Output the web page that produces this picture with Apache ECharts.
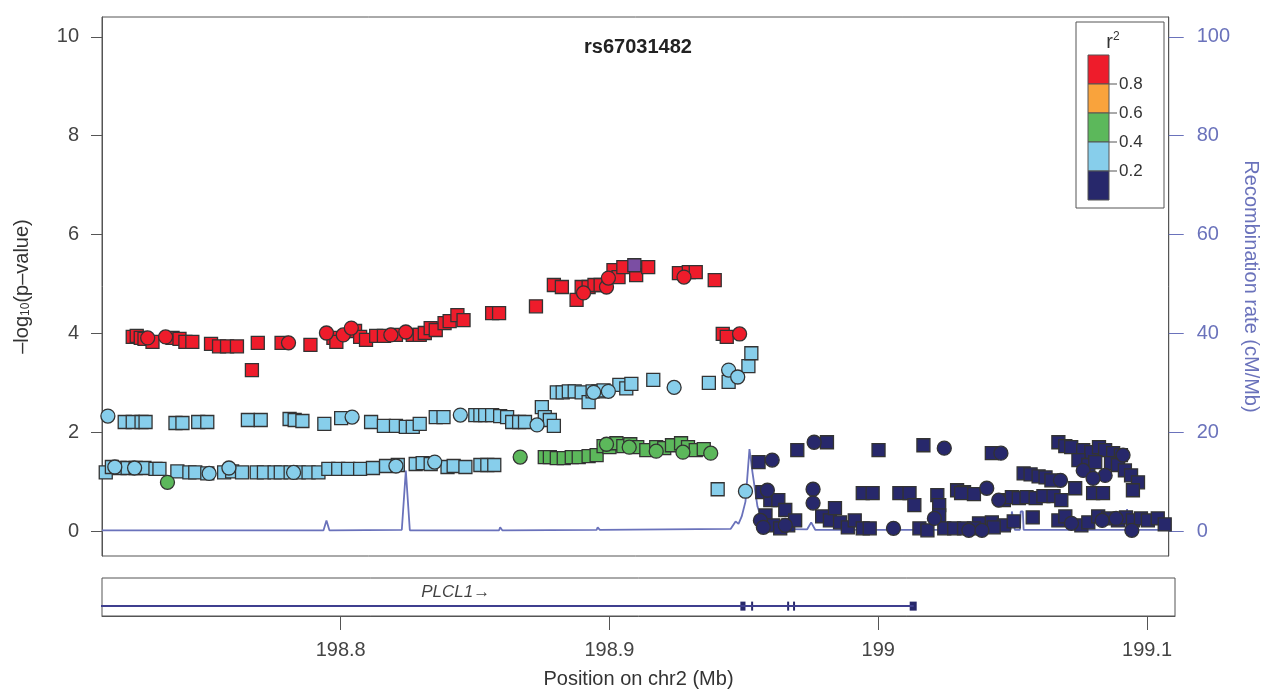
<!DOCTYPE html>
<html>
<head>
<meta charset="utf-8">
<script src="https://cdn.jsdelivr.net/npm/echarts@6/dist/echarts.min.js"></script>
<style>
  html, body { margin: 0; padding: 0; background: #fff; }
  #chart { width: 1269px; height: 691px; }
</style>
</head>
<body>
<div id="chart"></div>
<script>
// window on chr2 (Mb)
const xMin = 198.7112;
const xMax = 199.1104;
const xTicks = [198.8, 198.9, 199, 199.1];
const pTicks = [0, 2, 4, 6, 8, 10];
const rateTicks = [0, 20, 40, 60, 80, 100];

const leadSnp = "rs67031482";
const leadPoint = [[198.9104, 5.38]];

// [position Mb, -log10 p]
const redSquares = [
  [198.7227, 3.93], [198.7242, 3.95], [198.7257, 3.91], [198.7271, 3.89], [198.7301, 3.83],
  [198.7376, 3.91], [198.7402, 3.89], [198.7424, 3.83], [198.745, 3.83], [198.752, 3.79],
  [198.755, 3.74], [198.758, 3.74], [198.7617, 3.74], [198.7673, 3.26], [198.7695, 3.81],
  [198.7784, 3.81], [198.7892, 3.77], [198.7978, 3.91], [198.7989, 3.83], [198.8059, 4.05],
  [198.8078, 3.93], [198.81, 3.87], [198.8138, 3.95], [198.8167, 3.95], [198.8212, 3.97],
  [198.8275, 3.97], [198.8301, 3.97], [198.832, 4.01], [198.8342, 4.11], [198.8361, 4.07],
  [198.8394, 4.21], [198.8413, 4.25], [198.8442, 4.37], [198.8465, 4.27], [198.8572, 4.41],
  [198.8598, 4.41], [198.8736, 4.55], [198.8803, 4.98], [198.8833, 4.94], [198.8888, 4.68],
  [198.8907, 4.94], [198.8933, 4.94], [198.8955, 4.98], [198.8978, 4.98], [198.9026, 5.28],
  [198.9045, 5.14], [198.9063, 5.34], [198.9111, 5.18], [198.9156, 5.34], [198.9271, 5.22],
  [198.9308, 5.24], [198.9334, 5.24], [198.9405, 5.08], [198.9435, 3.99], [198.945, 3.93]
];
const redCircles = [
  [198.7283, 3.91], [198.735, 3.93], [198.781, 3.81], [198.7952, 4.01], [198.8015, 3.97],
  [198.8045, 4.11], [198.8193, 3.97], [198.8249, 4.03], [198.8914, 4.82], [198.9, 4.94],
  [198.9007, 5.12], [198.929, 5.14], [198.9498, 3.99]
];

const greenSquares = [
  [198.8769, 1.5], [198.8788, 1.5], [198.8814, 1.48], [198.884, 1.48], [198.887, 1.5],
  [198.8896, 1.5], [198.8933, 1.52], [198.8963, 1.54], [198.8989, 1.72], [198.9011, 1.7],
  [198.9037, 1.78], [198.9063, 1.72], [198.9089, 1.76], [198.9115, 1.7], [198.9149, 1.64],
  [198.9186, 1.7], [198.9216, 1.68], [198.9245, 1.74], [198.9279, 1.78], [198.9305, 1.7],
  [198.9334, 1.64], [198.9364, 1.66]
];
const greenCircles = [
  [198.7357, 0.99], [198.8677, 1.5], [198.9, 1.76], [198.9085, 1.7], [198.9186, 1.62],
  [198.9286, 1.6], [198.939, 1.58]
];

const blueSquares = [
  [198.7197, 2.21], [198.7227, 2.21], [198.726, 2.21], [198.7275, 2.21], [198.7387, 2.19],
  [198.7413, 2.19], [198.7472, 2.21], [198.7506, 2.21], [198.7658, 2.25], [198.7706, 2.25],
  [198.7814, 2.27], [198.7833, 2.25], [198.7862, 2.23], [198.7944, 2.17], [198.8007, 2.29],
  [198.8119, 2.21], [198.8167, 2.13], [198.8212, 2.13], [198.8249, 2.11], [198.8275, 2.11],
  [198.8301, 2.17], [198.8361, 2.31], [198.839, 2.31], [198.8509, 2.35], [198.8528, 2.35],
  [198.8546, 2.35], [198.8572, 2.35], [198.8602, 2.33], [198.8628, 2.31], [198.8647, 2.21],
  [198.8673, 2.21], [198.8695, 2.21], [198.8758, 2.51], [198.8769, 2.31], [198.8788, 2.25],
  [198.8803, 2.13], [198.8814, 2.81], [198.8836, 2.81], [198.8859, 2.83], [198.8881, 2.83],
  [198.8907, 2.81], [198.8933, 2.61], [198.8948, 2.83], [198.897, 2.83], [198.8989, 2.85],
  [198.9048, 2.96], [198.9074, 2.89], [198.9093, 2.98], [198.9175, 3.06], [198.9383, 3.0],
  [198.9457, 3.02], [198.9531, 3.34], [198.9542, 3.6],
  [198.7126, 1.19], [198.7149, 1.3], [198.7178, 1.28], [198.7208, 1.28], [198.7238, 1.28],
  [198.7271, 1.28], [198.7312, 1.26], [198.7327, 1.26], [198.7394, 1.21], [198.7439, 1.19],
  [198.7461, 1.19], [198.7506, 1.17], [198.7569, 1.19], [198.7599, 1.21], [198.7636, 1.19],
  [198.7691, 1.19], [198.7718, 1.19], [198.7758, 1.19], [198.7781, 1.19], [198.7818, 1.19],
  [198.7848, 1.19], [198.7885, 1.19], [198.7922, 1.19], [198.7959, 1.26], [198.7996, 1.26],
  [198.8033, 1.26], [198.8078, 1.26], [198.8126, 1.28], [198.8175, 1.32], [198.8219, 1.34],
  [198.8286, 1.36], [198.8312, 1.38], [198.8342, 1.36], [198.8405, 1.3], [198.8428, 1.32],
  [198.8472, 1.3], [198.8528, 1.34], [198.8554, 1.34], [198.858, 1.34], [198.9416, 0.85]
];
const blueCircles = [
  [198.7134, 2.33], [198.8048, 2.31], [198.8453, 2.35], [198.874, 2.15], [198.8952, 2.81],
  [198.9007, 2.83], [198.9253, 2.91], [198.9457, 3.26], [198.9491, 3.12],
  [198.716, 1.3], [198.7234, 1.28], [198.7513, 1.17], [198.7587, 1.28], [198.7829, 1.19],
  [198.8212, 1.32], [198.8357, 1.4], [198.952, 0.81]
];

const navySquares = [
  [198.9569, 1.4], [198.9714, 1.64], [198.9825, 1.8], [199.0018, 1.64], [199.0186, 1.74],
  [199.0442, 1.58], [199.0691, 1.8], [199.0717, 1.72], [199.0739, 1.7], [199.0784, 1.64],
  [199.0814, 1.6], [199.0843, 1.7], [199.0866, 1.64], [199.0896, 1.58], [199.0925, 1.54],
  [199.0766, 1.44], [199.0803, 1.34], [199.0829, 1.4], [199.0888, 1.38], [199.0914, 1.34],
  [199.094, 1.23], [199.0963, 1.13], [199.0989, 0.99], [199.097, 0.83], [199.0561, 1.17],
  [199.0587, 1.15], [199.0617, 1.11], [199.0643, 1.09], [199.0665, 1.03], [199.0754, 0.87],
  [199.0821, 0.77], [199.0858, 0.77], [199.0312, 0.83], [199.0338, 0.79], [199.0375, 0.75],
  [199.0487, 0.63], [199.0517, 0.69], [199.0543, 0.67], [199.0572, 0.69], [199.0606, 0.67],
  [199.0635, 0.71], [199.0673, 0.71], [199.0702, 0.63], [199.0595, 0.28], [199.0394, 0.16],
  [199.0442, 0.18], [199.0487, 0.12], [199.0524, 0.2], [199.0691, 0.22], [199.0717, 0.3],
  [199.0777, 0.12], [199.0803, 0.18], [199.084, 0.3], [199.0877, 0.26], [199.0914, 0.22],
  [199.0944, 0.28], [199.097, 0.22], [199.1, 0.26], [199.1026, 0.22], [199.1063, 0.26],
  [199.1089, 0.14],
  [198.9583, 0.79], [198.9613, 0.63], [198.9643, 0.63], [198.9669, 0.43], [198.9595, 0.32],
  [198.9624, 0.12], [198.965, 0.06], [198.968, 0.12], [198.9706, 0.22], [198.9807, 0.3],
  [198.9836, 0.22], [198.9855, 0.47], [198.9874, 0.18], [198.9903, 0.08], [198.9929, 0.22],
  [198.9959, 0.06], [198.9985, 0.06], [198.9959, 0.77], [198.9996, 0.77], [199.0096, 0.77],
  [199.0134, 0.77], [199.0152, 0.53], [199.0171, 0.06], [199.0201, 0.02], [199.0238, 0.73],
  [199.0245, 0.53], [199.0245, 0.32], [199.0264, 0.06], [199.0301, 0.06], [199.0327, 0.77],
  [199.0338, 0.06], [199.0375, 0.06], [199.0449, 0.08]
];
const navyCircles = [
  [198.962, 1.44], [198.9777, 1.8], [199.0264, 1.68], [199.0476, 1.58], [199.0784, 1.23],
  [199.0866, 1.13], [199.0699, 1.03], [199.0423, 0.87], [199.0468, 0.63], [198.9602, 0.83],
  [198.9576, 0.22], [198.9587, 0.08], [198.9669, 0.12], [198.9773, 0.85], [198.9773, 0.57],
  [199.0074, 0.06], [199.0227, 0.26], [199.0356, 0.02], [199.0405, 0.02], [199.074, 0.16],
  [199.0855, 0.22], [199.0907, 0.26], [199.0966, 0.02], [199.0933, 1.54], [199.0821, 1.07]
];

// [position Mb, cM/Mb]
const recombRate = [
  [198.7112, 0.2], [198.7941, 0.2], [198.7952, 2.2], [198.7963, 0.2], [198.8234, 0.3],
  [198.8249, 12.3], [198.8264, 0.2], [198.8598, 0.2], [198.8602, 0.8], [198.861, 0.2],
  [198.8963, 0.3], [198.8967, 0.8], [198.8975, 0.3], [198.9465, 0.5], [198.9483, 2.0],
  [198.9494, 1.5], [198.9506, 3.0], [198.952, 6.0], [198.9535, 16.6], [198.9546, 12.0],
  [198.9565, 5.0], [198.9587, 1.5], [198.9613, 0.5], [198.9751, 0.4], [198.9766, 1.8],
  [198.9781, 0.3], [199.0513, 0.3], [199.0517, 4.0], [199.0524, 4.0], [199.0528, 0.3],
  [199.0547, 0.3], [199.055, 4.0], [199.0558, 4.0], [199.0561, 0.3], [199.0944, 0.3],
  [199.0948, 4.5], [199.0955, 0.3], [199.1104, 0.3]
];

// gene track
const geneName = "PLCL1";
const geneStart = 198.70;
const geneEnd = 199.0132;
const geneLabelPos = 198.8428;
const exons = [
  [198.9487, 198.9506], [198.9527, 198.9531], [198.9661, 198.9664],
  [198.9683, 198.9686], [199.0117, 199.0143]
];

const ldColors = ["#ee1c2b", "#f9a33c", "#5cb85b", "#87ceeb", "#27286b"];
const ldLabels = ["0.8", "0.6", "0.4", "0.2"];
const leadColor = "#7b4ea3";
const rateColor = "#6a72bb";

const chartDom = document.getElementById("chart");
const myChart = echarts.init(chartDom);

function snpSeries(data, symbol, color) {
  return {
    type: "scatter",
    xAxisIndex: 0,
    yAxisIndex: 0,
    data: data,
    symbol: symbol,
    symbolSize: symbol === "rect" ? 13 : 14,
    itemStyle: { color: color, borderColor: "#333", borderWidth: 1.3, opacity: 1 },
    z: 3,
  };
}

// legend box drawn as graphic
const legendChildren = [
  {
    type: "rect",
    shape: { x: 1076, y: 22, width: 88, height: 186 },
    style: { fill: "#fff", stroke: "#555", lineWidth: 1 },
  },
  {
    type: "text",
    x: 1113,
    y: 42,
    style: {
      text: "{r|r}{s|2}",
      align: "center",
      verticalAlign: "middle",
      rich: {
        r: { fontSize: 20, fill: "#333", fontFamily: "Liberation Sans" },
        s: { fontSize: 12, fill: "#333", verticalAlign: "top", padding: [0, 0, 10, 0], fontFamily: "Liberation Sans" },
      },
    },
  },
];
ldColors.forEach((c, i) => {
  legendChildren.push({
    type: "rect",
    shape: { x: 1088, y: 55 + i * 29, width: 21, height: 29 },
    style: { fill: c, stroke: "#555", lineWidth: 1 },
  });
});
ldLabels.forEach((t, i) => {
  const y = 55 + (i + 1) * 29;
  legendChildren.push({
    type: "line",
    shape: { x1: 1109, y1: y, x2: 1117, y2: y },
    style: { stroke: "#555", lineWidth: 1 },
  });
  legendChildren.push({
    type: "text",
    x: 1119,
    y: y,
    style: { text: t, fontSize: 17, fill: "#333", verticalAlign: "middle", fontFamily: "Liberation Sans" },
  });
});

const options = {
  animation: false,
  backgroundColor: "#fff",
  textStyle: { fontFamily: "Liberation Sans" },
  grid: [
    { left: 102, top: 17, width: 1073, height: 539, show: true, borderColor: "#555", borderWidth: 1 },
    { left: 102, top: 578, width: 1073, height: 38, show: true, borderColor: "#555", borderWidth: 1 },
  ],
  xAxis: [
    {
      gridIndex: 0,
      type: "value",
      min: xMin,
      max: xMax,
      axisLine: { show: false },
      axisTick: { show: false },
      axisLabel: { show: false },
      splitLine: { show: false },
    },
    {
      gridIndex: 1,
      type: "value",
      min: xMin,
      max: xMax,
      axisLine: { show: true, lineStyle: { color: "#555" } },
      axisTick: { show: true, length: 14, customValues: xTicks, lineStyle: { color: "#555" } },
      axisLabel: {
        customValues: xTicks,
        margin: 24,
        fontSize: 20,
        color: "#444",
        formatter: (v) => String(v),
      },
      splitLine: { show: false },
      name: "Position on chr2 (Mb)",
      nameLocation: "middle",
      nameGap: 53,
      nameTextStyle: { fontSize: 20, color: "#333" },
    },
  ],
  yAxis: [
    {
      gridIndex: 0,
      type: "value",
      min: -0.5,
      max: 10.4,
      axisLine: { show: true, lineStyle: { color: "#555" } },
      axisTick: { show: true, length: 11, customValues: pTicks, lineStyle: { color: "#555" } },
      axisLabel: { customValues: pTicks, margin: 23, fontSize: 20, color: "#444" },
      splitLine: { show: false },
      name: "–log{sub|10}(p–value)",
      nameLocation: "middle",
      nameGap: 70,
      nameTextStyle: {
        fontSize: 20,
        color: "#333",
        rich: { sub: { fontSize: 12, color: "#333", padding: [8, 0, 0, 0] } },
      },
    },
    {
      gridIndex: 0,
      type: "value",
      position: "right",
      min: -5,
      max: 104,
      axisLine: { show: true, lineStyle: { color: "#555" } },
      axisTick: { show: true, length: 15, customValues: rateTicks, lineStyle: { color: rateColor } },
      axisLabel: { customValues: rateTicks, margin: 28, fontSize: 20, color: rateColor },
      splitLine: { show: false },
      name: "Recombination rate (cM/Mb)",
      nameLocation: "middle",
      nameRotate: -90,
      nameGap: 68,
      nameTextStyle: { fontSize: 20, color: rateColor },
    },
    {
      gridIndex: 1,
      type: "value",
      min: 0,
      max: 1,
      show: false,
    },
  ],
  graphic: [
    {
      type: "text",
      x: 638,
      y: 47,
      style: {
        text: leadSnp,
        fontSize: 20,
        fontWeight: "bold",
        fill: "#222",
        align: "center",
        verticalAlign: "middle",
        fontFamily: "Liberation Sans",
      },
      z: 10,
    },
    { type: "group", children: legendChildren, z: 10 },
  ],
  series: [
    {
      type: "line",
      xAxisIndex: 0,
      yAxisIndex: 1,
      data: recombRate,
      showSymbol: false,
      symbol: "none",
      lineStyle: { color: rateColor, width: 1.8 },
      z: 1,
    },
    snpSeries(navySquares, "rect", ldColors[4]),
    snpSeries(navyCircles, "circle", ldColors[4]),
    snpSeries(blueSquares, "rect", ldColors[3]),
    snpSeries(blueCircles, "circle", ldColors[3]),
    snpSeries(greenSquares, "rect", ldColors[2]),
    snpSeries(greenCircles, "circle", ldColors[2]),
    snpSeries(redSquares, "rect", ldColors[0]),
    snpSeries(redCircles, "circle", ldColors[0]),
    snpSeries(leadPoint, "rect", leadColor),
    {
      type: "line",
      xAxisIndex: 1,
      yAxisIndex: 2,
      data: [[geneStart, 0.26], [geneEnd, 0.26]],
      symbol: "none",
      lineStyle: { color: "#3f3f8f", width: 2 },
    },
    {
      type: "custom",
      xAxisIndex: 1,
      yAxisIndex: 2,
      data: exons,
      renderItem: (params, api) => {
        const s = api.coord([api.value(0), 0.26]);
        const e = api.coord([api.value(1), 0.26]);
        return {
          type: "rect",
          shape: { x: s[0], y: s[1] - 4.5, width: Math.max(e[0] - s[0], 2), height: 9 },
          style: { fill: "#27286b" },
        };
      },
    },
    {
      type: "scatter",
      xAxisIndex: 1,
      yAxisIndex: 2,
      data: [[geneLabelPos, 0.63]],
      symbolSize: 0,
      label: {
        show: true,
        position: "inside",
        formatter: "{i|" + geneName + "}→",
        fontSize: 17,
        color: "#111",
        rich: { i: { fontStyle: "italic", fontSize: 17, color: "#111" } },
      },
    },
  ],
};

myChart.setOption(options);

window.addEventListener("resize", () => {
  myChart.resize();
});
</script>
</body>
</html>
